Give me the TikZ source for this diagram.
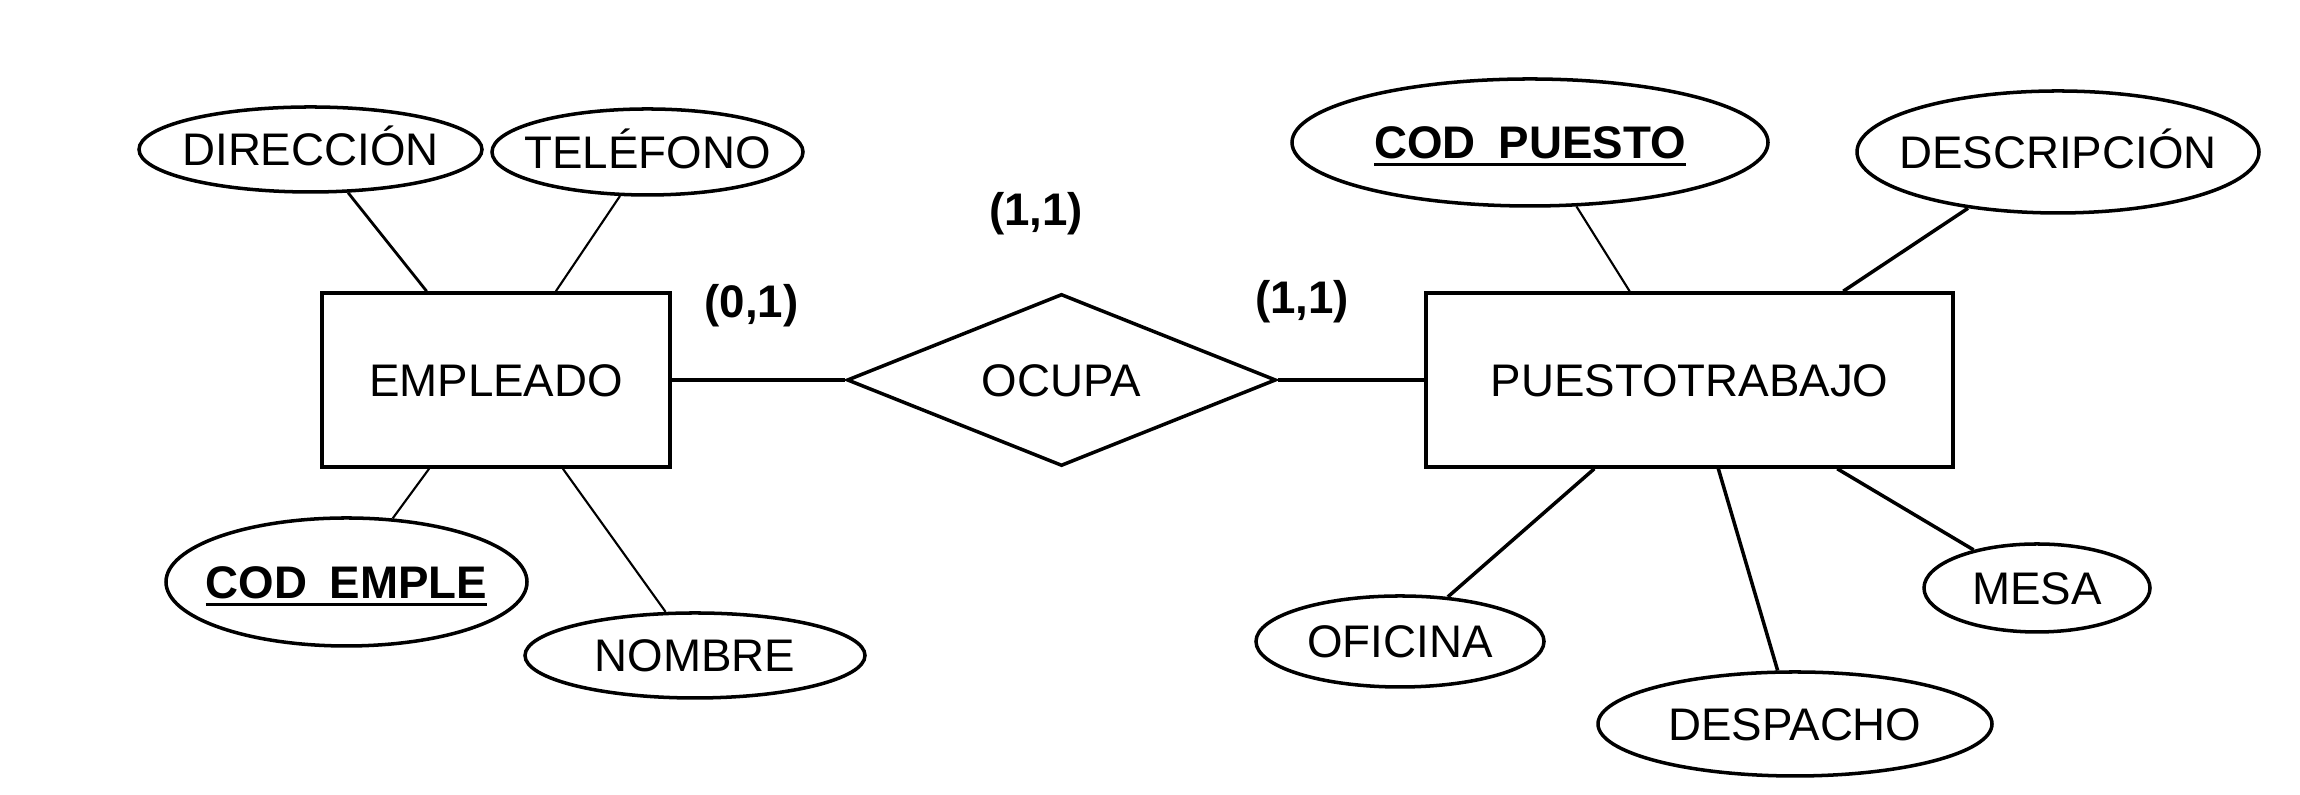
\documentclass[tikz,border=0pt]{standalone}
\usepackage{fontspec}
\setmainfont{Liberation Sans}
\usepackage{tikz}
\usetikzlibrary{shapes.geometric,positioning}

\newlength\anchoclave
\newcommand{\clave}[1]{\settowidth{\anchoclave}{#1}#1\llap{\rule[-2.1pt]{\anchoclave}{0.85pt}}}

\begin{document}
\begin{tikzpicture}[on grid,
   every node/.style={font=\fontsize{13pt}{15pt}\selectfont,text height=9.3pt,text depth=0pt},
   entidad/.style={rectangle,draw,line width=1pt,minimum height=1.74cm,inner sep=0pt},
   relacion/.style={diamond,draw,line width=1pt,shape aspect=2.5,minimum width=4.29cm,minimum height=1.72cm,inner sep=0pt},
   atributo/.style={ellipse,draw,line width=1pt,inner xsep=-1cm,inner ysep=0pt},
   card/.style={font=\fontsize{13pt}{15pt}\selectfont\bfseries},
   every edge/.style={draw,line width=1pt},
   fino/.style={line width=0.6pt}]
   \useasboundingbox (0,0) rectangle (23,7.95);
   \node[entidad,minimum width=3.48cm] (empleado) at (4.96,4.15) {EMPLEADO};
   \node[relacion]                      (ocupa)  [right=5.655cm of empleado] {OCUPA};
   \node[entidad,minimum width=5.27cm]  (puesto) [right=6.28cm of ocupa] {PUESTOTRABAJO};

   % atributos de EMPLEADO
   \node[atributo,minimum width=3.43cm,minimum height=0.85cm] (direccion) [above left=2.305cm and 1.855cm of empleado] {DIRECCIÓN};
   \node[atributo,minimum width=3.11cm,minimum height=0.86cm] (telefono) [above right=2.28cm and 1.515cm of empleado] {TELÉFONO};
   \node[atributo,minimum width=3.61cm,minimum height=1.28cm] (codemple) [below left=2.02cm and 1.495cm of empleado] {\bfseries\clave{COD\enspace EMPLE}};
   \node[atributo,minimum width=3.40cm,minimum height=0.85cm] (nombre) [below right=2.755cm and 1.99cm of empleado] {NOMBRE};

   % atributos de PUESTOTRABAJO
   \node[atributo,minimum width=4.76cm,minimum height=1.27cm] (codpuesto) [above left=2.375cm and 1.595cm of puesto] {\bfseries\clave{COD\enspace PUESTO}};
   \node[atributo,minimum width=4.02cm,minimum height=1.22cm] (descripcion) [above right=2.28cm and 3.685cm of puesto] {DESCRIPCIÓN};
   \node[atributo,minimum width=2.88cm,minimum height=0.91cm] (oficina) [below left=2.615cm and 2.895cm of puesto] {OFICINA};
   \node[atributo,minimum width=3.94cm,minimum height=1.04cm] (despacho) [below right=3.44cm and 1.055cm of puesto] {DESPACHO};
   \node[atributo,minimum width=2.26cm,minimum height=0.88cm] (mesa) [below right=2.08cm and 3.475cm of puesto] {MESA};

   % cardinalidades
   \node[card] (card01)  [above right=0.785cm and 2.555cm of empleado] {(0,1)};
   \node[card] (card11a) [above left=1.705cm and 0.255cm of ocupa] {(1,1)};
   \node[card] (card11b) [above right=0.825cm and 2.405cm of ocupa] {(1,1)};

   \path
   (empleado) edge (ocupa)
   (ocupa) edge (puesto)
   (direccion.-49) edge[line width=0.8pt] (empleado.128)
   (telefono.-122) edge[fino] (empleado.56)
   (empleado.-127) edge[fino] (codemple.54)
   (empleado.-53) edge[fino] (nombre.124)
   (codpuesto.-54) edge[fino] (puesto.124)
   (descripcion.-148) edge (puesto.30)
   (puesto.-137) edge (oficina.43)
   (puesto.-72) edge (despacho.108)
   (puesto.-31) edge (mesa.149);
\end{tikzpicture}
\end{document}
